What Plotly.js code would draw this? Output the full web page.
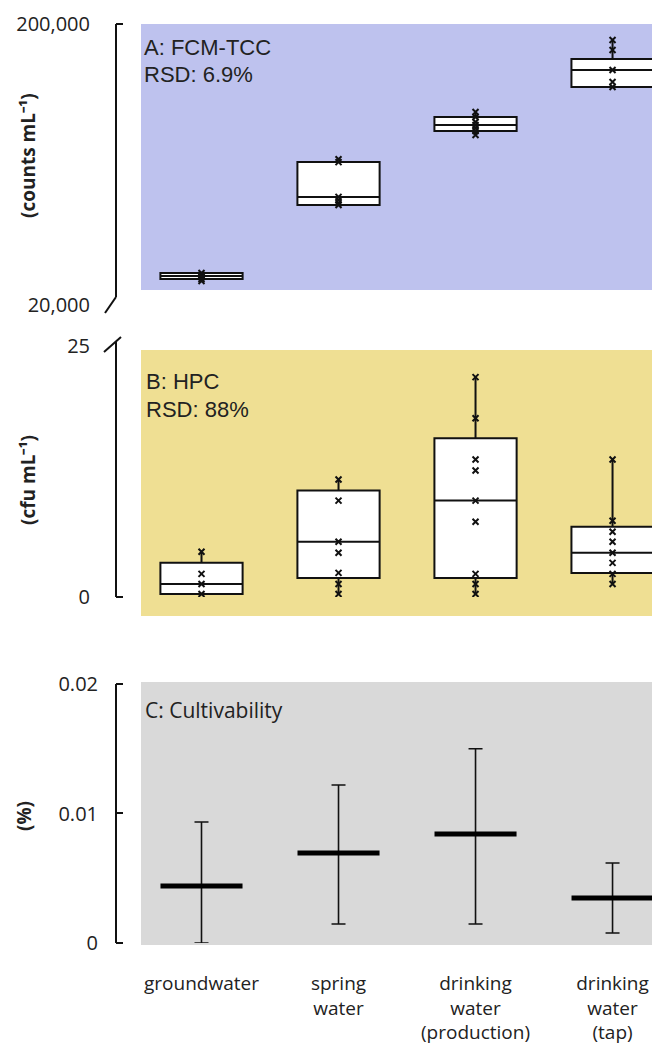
<!DOCTYPE html>
<html><head><meta charset="utf-8">
<script src="https://cdn.plot.ly/plotly-3.0.1.min.js"></script>
<style>html,body{margin:0;padding:0;background:#fff;}#chart{width:652px;height:1047px;}</style>
</head><body><div id="chart"></div>
<script>
// ---------- data ----------
const categories = ["groundwater", "spring water", "drinking water (production)", "drinking water (tap)"];
const tickLabels = ["groundwater", "spring<br>water", "drinking<br>water<br>(production)", "drinking<br>water<br>(tap)"];

// Panel A: FCM total cell count (counts mL-1)
const tccQ1 = [24750, 45400, 83200, 119400];
const tccMedian = [25370, 48500, 87400, 137200];
const tccQ3 = [26000, 64500, 93300, 150100];
const tccLowerFence = [24750, 45400, 80500, 119400];
const tccUpperFence = [26000, 64500, 97200, 175400];
const tccPoints = [
  [26000, 25580, 25370, 25160, 24750, 24350],
  [66000, 64500, 48500, 47300, 46100, 45400],
  [97200, 93300, 89600, 87400, 85300, 83200, 80500],
  [175400, 161600, 137200, 124300, 119400]
];
const tccTickVals = [20000, 200000];
const tccTickText = ["20,000", "200,000"];

// Panel B: HPC (cfu mL-1)
const hpcQ1 = [0.3, 1.9, 1.9, 2.4];
const hpcMedian = [1.3, 5.5, 9.6, 4.4];
const hpcQ3 = [3.4, 10.6, 15.8, 7.0];
const hpcLowerFence = [0.3, 0.3, 0.3, 1.3];
const hpcUpperFence = [4.5, 11.7, 21.9, 13.7];
const hpcPoints = [
  [4.5, 2.3, 1.3, 0.3],
  [11.7, 9.6, 5.5, 4.4, 2.4, 1.3, 0.3],
  [21.9, 17.8, 13.7, 12.6, 9.6, 7.5, 2.3, 1.3, 0.3],
  [13.7, 7.6, 6.5, 5.5, 4.4, 3.4, 2.3, 1.3]
];
const hpcTickVals = [0, 25];
const hpcTickText = ["0", "25"];

// Panel C: cultivability (%)
const cultMean = [0.0044, 0.00695, 0.00842, 0.00347];
const cultUpper = [0.00934, 0.0122, 0.0150, 0.00618];
const cultLower = [0.0, 0.00147, 0.00147, 0.00077];
const cultTickVals = [0, 0.01, 0.02];
const cultTickText = ["0", "0.01", "0.02"];

// ---------- helpers ----------
const W = 652, H = 1047;
const px = x => x / W;
const py = y => 1 - y / H;
const flatX = pts => pts.flatMap((arr, i) => arr.map(() => categories[i]));
const flatY = pts => pts.flat();

const tickFont = {family: "Open Sans, sans-serif", size: 20, color: "#222"};
const boxStyle = {type: "box", x: categories, width: 0.6, whiskerwidth: 0, fillcolor: "#ffffff",
  line: {color: "#111", width: 2}, boxpoints: false, hoverinfo: "skip", showlegend: false};
const ptStyle = {type: "scatter", mode: "markers", hoverinfo: "skip", showlegend: false,
  marker: {symbol: "x-thin", size: 6, color: "#111", line: {color: "#111", width: 2}}};

const traces = [
  Object.assign({}, boxStyle, {xaxis: "x", yaxis: "y", q1: tccQ1, median: tccMedian, q3: tccQ3,
    lowerfence: tccLowerFence, upperfence: tccUpperFence}),
  Object.assign({}, ptStyle, {xaxis: "x", yaxis: "y", x: flatX(tccPoints), y: flatY(tccPoints)}),
  Object.assign({}, boxStyle, {xaxis: "x2", yaxis: "y2", q1: hpcQ1, median: hpcMedian, q3: hpcQ3,
    lowerfence: hpcLowerFence, upperfence: hpcUpperFence}),
  Object.assign({}, ptStyle, {xaxis: "x2", yaxis: "y2", x: flatX(hpcPoints), y: flatY(hpcPoints)}),
  {type: "scatter", mode: "markers", xaxis: "x3", yaxis: "y3", x: categories, y: cultMean,
    hoverinfo: "skip", showlegend: false,
    marker: {symbol: "line-ew", size: 58.6, color: "#000", line: {color: "#000", width: 5}},
    error_y: {type: "data", symmetric: false,
      array: cultUpper.map((u, i) => u - cultMean[i]),
      arrayminus: cultLower.map((l, i) => cultMean[i] - l),
      color: "#111", thickness: 1.6, width: 7}}
];

const xBase = {domain: [px(141), 1], type: "category", categoryarray: categories,
  range: [-0.4416, 3.288], showgrid: false, zeroline: false, showline: false,
  ticks: "", showticklabels: false};
const yBase = {anchor: "free", position: px(116), showgrid: false, zeroline: false, showline: false,
  ticks: "outside", ticklen: 22, tickcolor: "rgba(0,0,0,0)", tickfont: tickFont};

const L = (x0, y0, x1, y1, w) => ({type: "line", xref: "paper", yref: "paper",
  x0: px(x0), y0: py(y0), x1: px(x1), y1: py(y1), line: {color: "#111", width: w || 2}});
const R = (x0, y0, x1, y1, c) => ({type: "rect", xref: "paper", yref: "paper", layer: "below",
  x0: px(x0), y0: py(y0), x1: px(x1), y1: py(y1), fillcolor: c, line: {width: 0}});

const shapes = [
  R(141, 24, 652, 290, "#bec2ee"),
  R(141, 350, 652, 616, "#efdf93"),
  R(141, 682, 652, 945, "#d9d9d9"),
  // panel A axis with break
  L(116, 24, 116, 297), L(116, 24, 123, 24), L(116, 297, 105, 313),
  // panel B axis with break
  L(116, 342, 116, 597), L(116, 597, 123, 597), L(104, 352, 121, 337),
  // panel C axis
  L(116, 684, 116, 943), L(116, 684, 123, 684), L(116, 813, 123, 813), L(116, 943, 123, 943)
];

const ann = (text, x, y, opts) => Object.assign({text: text, xref: "paper", yref: "paper",
  x: px(x), y: py(y), showarrow: false, xanchor: "left", yanchor: "middle", align: "left"}, opts);
const panelFont = {family: "Liberation Sans, Arial, sans-serif", size: 22, color: "#222"};
const titleFont = {family: "Open Sans, sans-serif", size: 19, color: "#222", weight: "bold"};

const annotations = [
  ann("A: FCM-TCC", 142, 47.5, {font: panelFont}),
  ann("RSD: 6.9%", 142, 75, {font: panelFont}),
  ann("B: HPC", 144, 381.5, {font: panelFont}),
  ann("RSD: 88%", 144, 410, {font: panelFont}),
  ann("C: Cultivability", 143, 710, {font: {family: "Open Sans, sans-serif", size: 21, color: "#222"}}),
  ann("(counts mL\u207B\u00B9)", 28, 156, {xanchor: "center", align: "center", textangle: -90, font: titleFont}),
  ann("(cfu mL\u207B\u00B9)", 28, 480, {xanchor: "center", align: "center", textangle: -90, font: titleFont}),
  ann("(%)", 24, 816, {xanchor: "center", align: "center", textangle: -90, font: titleFont})
];

const layout = {
  width: W, height: H, margin: {l: 0, r: 0, t: 0, b: 0},
  paper_bgcolor: "#ffffff", plot_bgcolor: "rgba(0,0,0,0)", showlegend: false,
  xaxis: Object.assign({}, xBase, {anchor: "y"}),
  xaxis2: Object.assign({}, xBase, {anchor: "y2"}),
  xaxis3: Object.assign({}, xBase, {anchor: "y3", showticklabels: true, tickvals: categories,
    ticktext: tickLabels, ticks: "outside", ticklen: 23, tickcolor: "rgba(0,0,0,0)",
    tickfont: {family: "Open Sans, sans-serif", size: 19, color: "#222"}}),
  yaxis: Object.assign({}, yBase, {domain: [py(305), py(24)], type: "log",
    range: [Math.log10(20000), Math.log10(200000)], tickvals: tccTickVals, ticktext: tccTickText}),
  yaxis2: Object.assign({}, yBase, {domain: [py(597), py(346)], range: [0, 25],
    tickvals: hpcTickVals, ticktext: hpcTickText}),
  yaxis3: Object.assign({}, yBase, {domain: [py(943), py(684)], range: [0, 0.02], ticklen: 14,
    tickvals: cultTickVals, ticktext: cultTickText}),
  shapes: shapes, annotations: annotations
};

Plotly.newPlot("chart", traces, layout, {displayModeBar: false, staticPlot: true});
</script>
</body></html>
